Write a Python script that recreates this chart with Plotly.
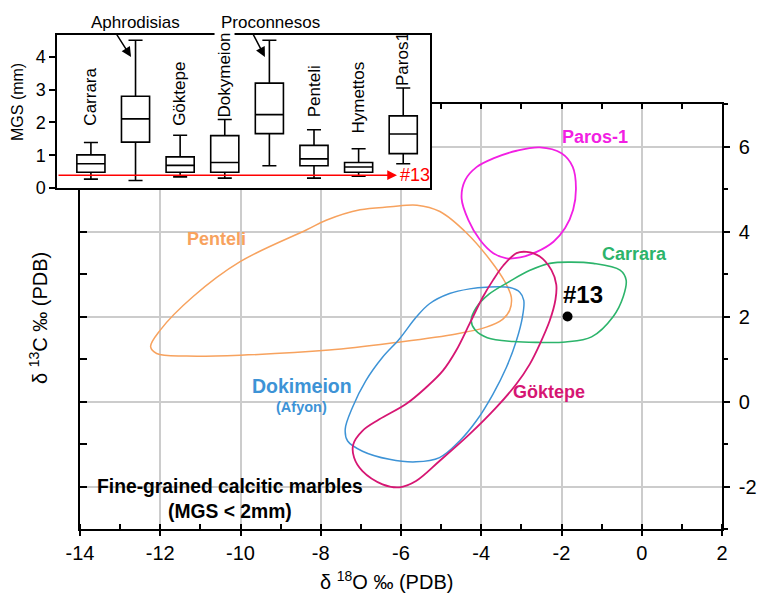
import plotly.graph_objects as go

# ---------------- main chart data (delta18O, delta13C contours) ----------------
paros_x = [-2.54, -2.0, -1.72, -1.64, -1.71, -1.91, -2.20, -2.62, -3.03, -3.37, -3.70, -4.03, -4.32, -4.49, -4.40, -4.11, -3.70, -3.12, -2.54]
paros_y = [5.98, 5.84, 5.52, 5.02, 4.51, 4.08, 3.76, 3.52, 3.39, 3.37, 3.49, 3.80, 4.27, 4.78, 5.21, 5.52, 5.72, 5.90, 5.98]

carrara_x = [-2.29, -1.79, -1.21, -0.54, -0.39, -0.46, -0.71, -1.25, -1.9, -2.6, -3.2, -3.85, -4.15, -4.25, -4.13, -3.8, -3.3, -2.8, -2.29]
carrara_y = [3.25, 3.28, 3.25, 3.09, 2.86, 2.47, 2.0, 1.52, 1.40, 1.39, 1.41, 1.50, 1.68, 1.90, 2.20, 2.53, 2.82, 3.08, 3.25]

goktepe_x = [-3.12, -2.87, -2.54, -2.25, -2.13, -2.15, -2.29, -2.54, -2.79, -3.125, -3.625, -4.29, -5.04, -5.625, -6.04, -6.46, -6.96, -7.17, -7.19, -6.96, -6.54, -5.875, -5.375, -4.96, -4.625, -4.29, -3.96, -3.71, -3.45, -3.12]
goktepe_y = [3.49, 3.52, 3.41, 3.09, 2.75, 2.40, 1.91, 1.35, 0.88, 0.41, -0.14, -0.77, -1.40, -1.87, -2.02, -1.95, -1.64, -1.32, -1.01, -0.69, -0.42, -0.06, 0.33, 0.72, 1.20, 1.83, 2.46, 2.85, 3.20, 3.49]

dokimeion_x = [-4.29, -3.875, -3.29, -3.04, -2.94, -2.975, -3.125, -3.375, -3.71, -4.125, -4.54, -5.04, -5.625, -6.29, -6.96, -7.33, -7.39, -7.21, -6.875, -6.46, -6.04, -5.625, -5.29, -4.79, -4.29]
dokimeion_y = [2.65, 2.69, 2.68, 2.57, 2.38, 1.98, 1.43, 0.80, 0.17, -0.46, -0.93, -1.32, -1.42, -1.36, -1.17, -0.93, -0.65, -0.14, 0.49, 1.04, 1.47, 1.98, 2.30, 2.54, 2.65]

penteli_x = [-12.24, -12.0, -11.18, -10.01, -8.35, -7.85, -7.02, -6.27, -5.6, -5.03, -4.36, -3.78, -3.4, -3.25, -3.29, -3.46, -3.875, -4.625, -6.125, -7.79, -10.01, -11.34, -12.09, -12.24]
penteli_y = [1.29, 1.68, 2.47, 3.29, 4.04, 4.27, 4.51, 4.58, 4.62, 4.47, 3.96, 3.33, 2.80, 2.45, 2.15, 1.94, 1.75, 1.59, 1.39, 1.21, 1.09, 1.07, 1.13, 1.29]

sample_x = [-1.85]
sample_y = [2.0]

x_tickvals = [-14, -12, -10, -8, -6, -4, -2, 0, 2]
x_ticktext = ["-14", "-12", "-10", "-8", "-6", "-4", "-2", "0", "2"]
y_tickvals = [-2, 0, 2, 4, 6]
y_ticktext = ["-2", "0", "2", "4", "6"]

# ---------------- inset box-plot data (MGS, mm) ----------------
box_names = ["Carrara", "Aphrodisias", "Göktepe", "Dokymeion", "Proconnesos", "Penteli", "Hymettos", "Paros1"]
box_low = [0.27, 0.23, 0.34, 0.30, 0.68, 0.30, 0.36, 0.74]
box_q1 = [0.48, 1.40, 0.48, 0.48, 1.66, 0.68, 0.48, 1.05]
box_med = [0.74, 2.11, 0.69, 0.78, 2.24, 0.89, 0.64, 1.65]
box_q3 = [1.01, 2.80, 0.95, 1.60, 3.20, 1.30, 0.78, 2.20]
box_high = [1.39, 4.51, 1.61, 2.09, 4.51, 1.78, 1.20, 3.05]
sample_mgs = 0.39

FONT = "Arial, Liberation Sans, sans-serif"
C_PAROS = "#f21fe3"
C_CARRARA = "#2cb46b"
C_GOK = "#d61673"
C_DOK = "#3d93d6"
C_PEN = "#f7a25e"

fig = go.Figure()

def contour(x, y, color, width):
    fig.add_trace(go.Scatter(x=x, y=y, mode="lines",
                             line=dict(color=color, width=width, shape="spline", smoothing=1.0),
                             hoverinfo="skip", showlegend=False))

contour(penteli_x, penteli_y, C_PEN, 1.5)
contour(dokimeion_x, dokimeion_y, C_DOK, 1.5)
contour(carrara_x, carrara_y, C_CARRARA, 1.6)
contour(paros_x, paros_y, C_PAROS, 1.8)
contour(goktepe_x, goktepe_y, C_GOK, 1.8)

fig.add_trace(go.Scatter(x=sample_x, y=sample_y, mode="markers",
                         marker=dict(color="black", size=10), showlegend=False))

# dummy trace for overlay axes (top / left tick marks)
fig.add_trace(go.Scatter(x=[-14], y=[-3], mode="markers", marker=dict(opacity=0),
                         xaxis="x3", yaxis="y3", showlegend=False, hoverinfo="skip"))

# inset box plot
idx = list(range(len(box_names)))
fig.add_trace(go.Box(x=idx, q1=box_q1, median=box_med, q3=box_q3,
                     lowerfence=box_low, upperfence=box_high,
                     xaxis="x2", yaxis="y2", width=0.63,
                     fillcolor="rgba(255,255,255,0)",
                     line=dict(color="black", width=1.6),
                     boxpoints=False, showlegend=False, hoverinfo="skip"))

X0, X1 = 80 / 759, 722 / 759
Y0, Y1 = (595 - 529) / 595, (595 - 104) / 595
IX0, IX1 = 57 / 759, 430 / 759
IY0, IY1 = (595 - 188) / 595, (595 - 35) / 595
INSET_XR = [-0.76, 7.6]
INSET_YR = [0, 4.67]

axis_common = dict(showline=True, linecolor="black", linewidth=1.5, zeroline=False,
                   automargin=False)

fig.update_layout(
    width=759, height=595,
    margin=dict(l=0, r=0, t=0, b=0, autoexpand=False),
    paper_bgcolor="white", plot_bgcolor="white",
    showlegend=False,
    font=dict(family=FONT, color="black"),
    xaxis=dict(domain=[X0, X1], range=[-14, 2], tickvals=x_tickvals, ticktext=x_ticktext,
               ticks="outside", ticklen=5, tickwidth=1.5, tickcolor="black",
               minor=dict(ticks="inside", dtick=1, ticklen=5, tickwidth=1.5, tickcolor="black"),
               showgrid=True, gridcolor="#cccccc", gridwidth=1.5,
               tickfont=dict(size=20), **axis_common),
    yaxis=dict(domain=[Y0, Y1], range=[-3, 7], tickvals=y_tickvals, ticktext=y_ticktext,
               side="right",
               ticks="outside", ticklen=6, tickwidth=1.5, tickcolor="black",
               minor=dict(ticks="outside", dtick=1, ticklen=4, tickwidth=1.5, tickcolor="black"),
               showgrid=True, gridcolor="#cccccc", gridwidth=1.5,
               tickfont=dict(size=20), ticklabelstandoff=5, **axis_common),
    xaxis3=dict(overlaying="x", side="top", range=[-14, 2], dtick=1, tick0=0,
                ticks="inside", ticklen=5, tickwidth=1.5, tickcolor="black",
                showticklabels=False, showgrid=False, **axis_common),
    yaxis3=dict(overlaying="y", side="left", range=[-3, 7], dtick=1, tick0=0,
                ticks="inside", ticklen=7, tickwidth=1.5, tickcolor="black",
                showticklabels=False, showgrid=False, **axis_common),
    xaxis2=dict(domain=[IX0, IX1], range=INSET_XR, anchor="y2",
                showticklabels=False, ticks="", showgrid=False, mirror=True, **axis_common),
    yaxis2=dict(domain=[IY0, IY1], range=INSET_YR, anchor="x2", dtick=1,
                ticks="outside", ticklen=6, tickwidth=1.5, tickcolor="black",
                showgrid=False, mirror=True, tickfont=dict(size=18),
                **axis_common),
)

# white background for the inset, covering the main grid underneath
fig.add_shape(type="rect", xref="x2", yref="y2",
              x0=INSET_XR[0], x1=INSET_XR[1], y0=INSET_YR[0], y1=INSET_YR[1],
              fillcolor="white", line=dict(width=0), layer="below")

# ---------- main annotations ----------
def ann(x, y, text, color, size, bold=True, **kw):
    t = f"<b>{text}</b>" if bold else text
    fig.add_annotation(x=x, y=y, xref="x", yref="y", text=t, showarrow=False,
                       xanchor="center", yanchor="middle",
                       font=dict(size=size, color=color, family=FONT), **kw)

ann(-1.165, 6.22, "Paros-1", C_PAROS, 18)
ann(-0.19, 3.47, "Carrara", C_CARRARA, 18)
ann(-1.46, 2.51, "#13", "black", 24)
ann(-10.61, 3.82, "Penteli", C_PEN, 18)
ann(-8.47, 0.36, "Dokimeion", C_DOK, 19.5)
ann(-8.47, -0.12, "(Afyon)", C_DOK, 14.5)
ann(-2.3, 0.23, "Göktepe", C_GOK, 18)
ann(-10.26, -2.0, "Fine-grained calcitic marbles", "black", 19.3)
ann(-10.26, -2.58, "(MGS < 2mm)", "black", 19.3)

def paper_text(px, py, text, size, angle=0, color="black"):
    fig.add_annotation(x=px / 759, y=(595 - py) / 595, xref="paper", yref="paper",
                       text=text, showarrow=False, textangle=angle,
                       xanchor="center", yanchor="middle",
                       font=dict(size=size, family=FONT, color=color))

# axis titles
paper_text(386, 580, "δ <sup>18</sup>O ‰ (PDB)", 20)
paper_text(38, 318, "δ <sup>13</sup>C ‰ (PDB)", 20, angle=-90)
paper_text(18, 102, "MGS (mm)", 16, angle=-90)

# ---------- inset annotations ----------
vert_labels = {"Carrara": 1.87, "Göktepe": 1.87, "Dokymeion": 2.13,
               "Penteli": 2.13, "Hymettos": 1.62, "Paros1": 3.09}
for name, ybot in vert_labels.items():
    i = box_names.index(name)
    fig.add_annotation(x=i, y=ybot, xref="x2", yref="y2", text=name, showarrow=False,
                       textangle=-90, yanchor="bottom", xanchor="center",
                       bgcolor="white" if name == "Dokymeion" else None,
                       borderpad=0,
                       font=dict(size=17, family=FONT))

paper_text(135, 23, "Aphrodisias", 17)
paper_text(270, 23, "Proconnesos", 17)

for name, dx in [("Aphrodisias", -16), ("Proconnesos", -13)]:
    i = box_names.index(name)
    fig.add_annotation(x=i - 0.1, y=4.0, xref="x2", yref="y2", text="",
                       showarrow=True, ax=dx, ay=-25, arrowhead=2, arrowsize=1.3,
                       arrowwidth=1.5, arrowcolor="black")

# red line at sample MGS with arrow and label
fig.add_annotation(x=6.86, y=sample_mgs, xref="x2", yref="y2", text="",
                   showarrow=True, axref="x2", ayref="y2", ax=INSET_XR[0], ay=sample_mgs,
                   arrowhead=2, arrowsize=1.3, arrowwidth=1.5, arrowcolor="red")
fig.add_annotation(x=6.88, y=sample_mgs, xref="x2", yref="y2", text="#13",
                   showarrow=False, xanchor="left", yanchor="middle",
                   font=dict(size=18, color="red", family=FONT))

fig.write_html("out.html")
